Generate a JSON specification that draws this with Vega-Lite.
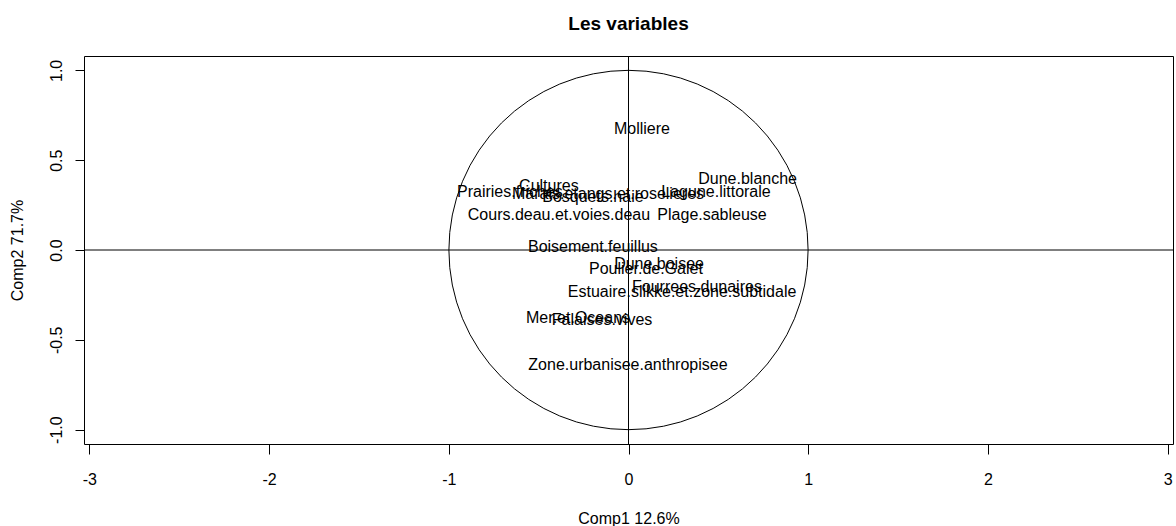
{
  "$schema": "https://vega.github.io/schema/vega-lite/v6.json",
  "width": 1089,
  "height": 388,
  "autosize": {"type": "none"},
  "padding": {"left": 84, "top": 56, "right": 3, "bottom": 82},
  "background": "white",
  "title": {
    "text": "Les variables",
    "fontSize": 19,
    "fontWeight": "bold",
    "font": "Liberation Sans",
    "color": "black",
    "anchor": "middle",
    "baseline": "alphabetic",
    "offset": 29,
    "dy": 22
  },
  "config": {
    "view": {"stroke": "black", "strokeWidth": 1},
    "axis": {
      "grid": false,
      "domain": false,
      "tickColor": "black",
      "tickWidth": 1,
      "labelColor": "black",
      "labelFont": "Liberation Sans",
      "labelFontSize": 16,
      "titleFont": "Liberation Sans",
      "titleFontSize": 16,
      "titleFontWeight": "normal",
      "titleColor": "black"
    }
  },
  "datasets": {
    "vars": [
      {"label": "Molliere", "comp1": 0.075, "comp2": 0.674},
      {"label": "Dune.blanche", "comp1": 0.663, "comp2": 0.395},
      {"label": "Lagune.littorale", "comp1": 0.487, "comp2": 0.323},
      {"label": "Prairies.friches", "comp1": -0.66, "comp2": 0.323},
      {"label": "Cultures", "comp1": -0.443, "comp2": 0.358},
      {"label": "Marais.etangs.et.roselieres", "comp1": -0.114, "comp2": 0.312},
      {"label": "Bosquets.haie", "comp1": -0.198, "comp2": 0.295},
      {"label": "Cours.deau.et.voies.deau", "comp1": -0.387, "comp2": 0.195},
      {"label": "Plage.sableuse", "comp1": 0.465, "comp2": 0.195},
      {"label": "Boisement.feuillus", "comp1": -0.198, "comp2": 0.017},
      {"label": "Poulier.de.Galet", "comp1": 0.097, "comp2": -0.106},
      {"label": "Dune.boisee", "comp1": 0.17, "comp2": -0.078},
      {"label": "Fourrees.dunaires", "comp1": 0.381, "comp2": -0.206},
      {"label": "Estuaire.slikke.et.zone.subtidale", "comp1": 0.298, "comp2": -0.234},
      {"label": "Mer.et.Oceans", "comp1": -0.281, "comp2": -0.379},
      {"label": "Falaises.vives", "comp1": -0.147, "comp2": -0.39},
      {"label": "Zone.urbanisee.anthropisee", "comp1": -0.003, "comp2": -0.64}
    ],
    "origin": [{"comp1": 0, "comp2": 0}]
  },
  "layer": [
    {
      "data": {"name": "vars"},
      "mark": {"type": "text", "font": "Liberation Sans", "fontSize": 16, "color": "black", "align": "center", "baseline": "middle"},
      "encoding": {
        "x": {
          "field": "comp1",
          "type": "quantitative",
          "scale": {"domain": [-3.03, 3.03], "nice": false, "zero": false},
          "axis": {
            "values": [-3, -2, -1, 0, 1, 2, 3],
            "tickSize": 10,
            "labelPadding": 17,
            "labelExpr": "datum.value < 0 ? '-' + format(-datum.value, 'd') : format(datum.value, 'd')",
            "title": "Comp1 12.6%",
            "titleX": 544.5,
            "titleY": 74,
            "titleBaseline": "middle",
            "titleAlign": "center"
          }
        },
        "y": {
          "field": "comp2",
          "type": "quantitative",
          "scale": {"domain": [-1.08, 1.08], "nice": false, "zero": false},
          "axis": {
            "values": [-1, -0.5, 0, 0.5, 1],
            "tickSize": 9,
            "labelPadding": 11,
            "labelAngle": -90,
            "labelAlign": "center",
            "labelBaseline": "bottom",
            "labelExpr": "datum.value < 0 ? '-' + format(-datum.value, '.1f') : format(datum.value, '.1f')",
            "title": "Comp2 71.7%",
            "titleAngle": -90,
            "titleX": -67,
            "titleY": 194,
            "titleAlign": "center",
            "titleBaseline": "middle"
          }
        },
        "text": {"field": "label", "type": "nominal"}
      }
    },
    {
      "data": {"name": "origin"},
      "mark": {"type": "point", "shape": "circle", "filled": false, "size": 129025, "stroke": "black", "strokeWidth": 1, "opacity": 1},
      "encoding": {
        "x": {"field": "comp1", "type": "quantitative"},
        "y": {"field": "comp2", "type": "quantitative"}
      }
    },
    {
      "data": {"name": "origin"},
      "mark": {"type": "rule", "color": "black", "strokeWidth": 1},
      "encoding": {"y": {"field": "comp2", "type": "quantitative"}}
    },
    {
      "data": {"name": "origin"},
      "mark": {"type": "rule", "color": "black", "strokeWidth": 1},
      "encoding": {"x": {"field": "comp1", "type": "quantitative"}}
    }
  ]
}
